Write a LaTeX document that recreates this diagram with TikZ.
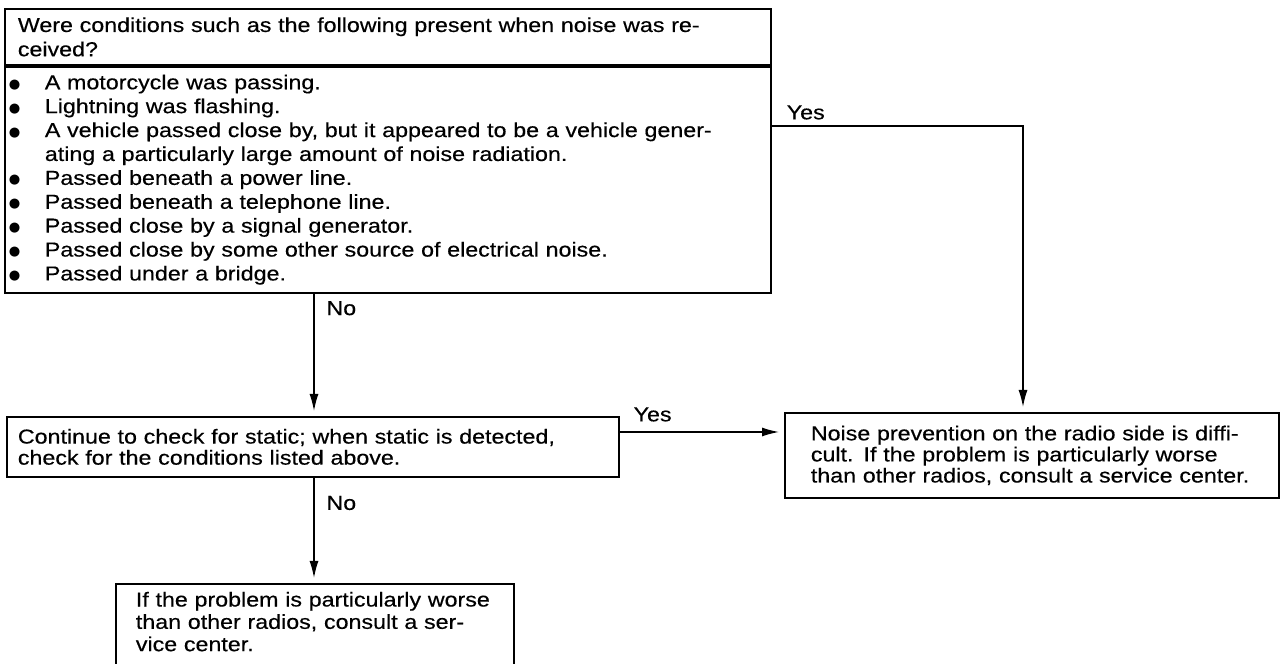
\documentclass[tikz,border=0pt]{standalone}
\usepackage{fontspec}
\setmainfont{Liberation Sans}[FakeStretch=1.15,FakeBold=0.4]
\newfontfamily\symfont{DejaVu Sans}
\usepackage{tikz}
\usetikzlibrary{arrows.meta,positioning,calc}
\newcommand{\boxfont}{\fontsize{11.5}{12}\selectfont}
\newcommand{\bul}{\makebox[7.2mm][l]{\raisebox{0.6pt}{\symfont\fontsize{7.5}{9}\selectfont ●}}}

\begin{document}
\begin{tikzpicture}[x=0.2mm,y=-0.2mm,
  box/.style={draw,line width=1pt,align=left,anchor=north west,
              inner ysep=0pt,font=\boxfont},
  arr/.style={-{Latex[length=3.4mm,width=1.8mm]},line width=0.8pt,
              shorten >=1mm},
  lbl/.style={font=\boxfont,inner sep=1pt}
]
\useasboundingbox (0,0) rectangle (1280,664);

% question box: header and list of conditions
\node[box,minimum width=153.2mm,minimum height=11.2mm,inner xsep=2.6mm,
      text width=148mm,font=\fontsize{11.5}{13.8}\selectfont] (head) at (4,8)
  {Were conditions such as the following present when noise was re-\\ceived?};
\node[box,below=0pt of head,minimum width=153.2mm,minimum height=45.2mm,
      inner xsep=0.8mm,text width=151.6mm,
      font=\fontsize{11.5}{13.6}\selectfont] (conds)
  {\bul A motorcycle was passing.\\
   \bul Lightning was flashing.\\
   \bul\makebox[143mm][s]{A vehicle passed close by, but it appeared to be a vehicle gener-}\\
   \hspace*{7.2mm}ating a particularly large amount of noise radiation.\\
   \bul Passed beneath a power line.\\
   \bul Passed beneath a telephone line.\\
   \bul Passed close by a signal generator.\\
   \bul Passed close by some other source of electrical noise.\\
   \bul Passed under a bridge.};

\node[box,minimum width=122.4mm,minimum height=12mm,inner xsep=2.2mm,
      text width=118mm] (check) at (6,416)
  {Continue to check for static; when static is detected,\\
   check for the conditions listed above.};
\node[box,minimum width=98.8mm,minimum height=17mm,inner xsep=5.2mm,
      text width=88.4mm] (hard) at (784,412)
  {Noise prevention on the radio side is diffi-\\
   cult. If the problem is particularly worse\\
   than other radios, consult a service center.};
% bottom box runs past the lower edge of the page
\node[box,minimum width=79.6mm,inner xsep=4mm,inner ysep=1.6mm,
      text width=71.6mm,font=\fontsize{11.5}{12.7}\selectfont] (service) at (115,583)
  {If the problem is particularly worse\\
   than other radios, consult a ser-\\
   vice center.\\
   \rule{0pt}{6mm}};

\coordinate (nox) at (314,0);
\coordinate (yes1) at (1023,126);
\coordinate (yes2) at (0,432);

\draw[arr] (conds.east |- yes1) -- node[lbl,pos=0.05,above right,yshift=0.8mm] {Yes}
  (yes1) -- (hard.north -| yes1);
\draw[arr] (conds.south -| nox) -- node[lbl,pos=0.12,right,xshift=2mm] {No}
  (check.north -| nox);
\draw[arr] (check.east |- yes2) -- node[lbl,pos=0.2,above,yshift=1.6mm] {Yes}
  (hard.west |- yes2);
\draw[arr] (check.south -| nox) -- node[lbl,pos=0.24,right,xshift=2mm] {No}
  (service.north -| nox);
\end{tikzpicture}
\end{document}
